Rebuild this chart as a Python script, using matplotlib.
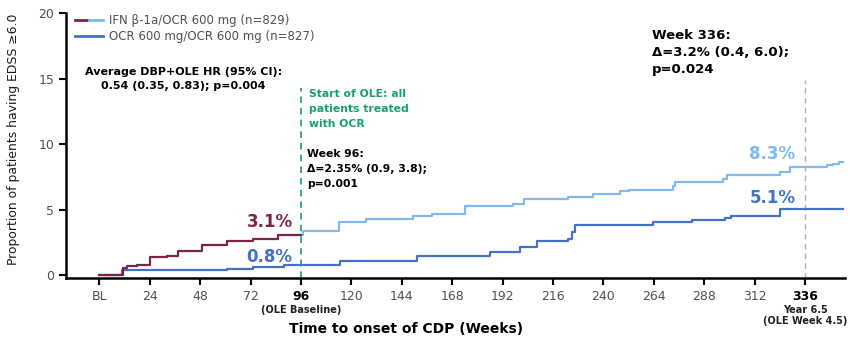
import numpy as np
import matplotlib
matplotlib.use('Agg')
import matplotlib.pyplot as plt
from matplotlib.lines import Line2D
from matplotlib.legend_handler import HandlerTuple

# Kaplan-Meier style cumulative proportions (%), step changes at given weeks
ifn_dbp_weeks = [0, 11.4, 13.3, 18, 24.3, 32.4, 37.6, 49, 61, 73, 85, 96]
ifn_dbp_pct = [0, 0.6, 0.7, 0.8, 1.4, 1.5, 1.9, 2.3, 2.6, 2.8, 3.1, 3.1]

ifn_ole_weeks = [96, 97, 114, 127, 149.5, 158.6, 174.3, 197, 202, 223, 235, 248,
                 252, 273, 274, 297, 299, 324, 329, 346.7, 349.5, 352, 354]
ifn_ole_pct = [3.1, 3.4, 4.1, 4.3, 4.55, 4.7, 5.3, 5.45, 5.8, 6.0, 6.2, 6.4,
               6.55, 6.85, 7.1, 7.35, 7.65, 7.9, 8.3, 8.4, 8.5, 8.65, 8.65]

ocr_weeks = [0, 11, 61, 73, 88, 114.8, 151.4, 186, 200.5, 208.6, 223, 225,
             226.7, 263.8, 282, 298, 301, 324, 354]
ocr_pct = [0, 0.4, 0.5, 0.65, 0.8, 1.1, 1.45, 1.8, 2.2, 2.6, 2.8, 3.3,
           3.85, 4.1, 4.2, 4.4, 4.55, 5.1, 5.1]

xticks = [0, 24, 48, 72, 96, 120, 144, 168, 192, 216, 240, 264, 288, 312, 336]
xticklabels = ['BL', '24', '48', '72', '96', '120', '144', '168', '192', '216',
               '240', '264', '288', '312', '336']
yticks = [0, 5, 10, 15, 20]

c_red = '#7a2449'
c_light = '#80b9ee'
c_dark = '#4472c4'
c_green = '#18a06a'
c_grey = '#505050'

plt.rcParams['font.family'] = 'DejaVu Sans'

fig = plt.figure(figsize=(8.5, 3.4), dpi=100)
ax = fig.add_axes([0.078, 0.182, 0.916, 0.78])

ax.step(ocr_weeks, ocr_pct, where='post', color=c_dark, lw=1.6, zorder=3)
ax.step(ifn_ole_weeks, ifn_ole_pct, where='post', color=c_light, lw=1.6, zorder=3)
ax.step(ifn_dbp_weeks, ifn_dbp_pct, where='post', color=c_red, lw=1.6, zorder=4)

ax.set_xlim(-15.7, 355)
ax.set_ylim(-0.2, 20)

# reference lines at OLE start and week 336
ax.plot([96, 96], [-0.2, 14.3], ls=(0, (4, 3)), color=c_green, lw=1.2, zorder=2)
ax.plot([336, 336], [-0.2, 14.9], ls=(0, (4, 3)), color='#b0b0b0', lw=1.0, zorder=2)

for s in ['top', 'right']:
    ax.spines[s].set_visible(False)
for s in ['left', 'bottom']:
    ax.spines[s].set_linewidth(1.8)

ax.set_yticks(yticks)
ax.set_xticks(xticks)
ax.set_xticklabels(xticklabels)
ax.tick_params(axis='both', length=5, width=1.5, labelsize=9, labelcolor=c_grey)
for lbl in ax.get_xticklabels():
    if lbl.get_text() in ('96', '336'):
        lbl.set_fontweight('bold')
        lbl.set_color('black')

# sub-labels under the two key ticks
xt = ax.get_xaxis_transform()
ax.annotate('(OLE Baseline)', xy=(96, 0), xycoords=xt, xytext=(0, -19.5),
            textcoords='offset points', ha='center', va='top', fontsize=7,
            fontweight='bold', color='#202020')
ax.annotate('Year 6.5\n(OLE Week 4.5)', xy=(336, 0), xycoords=xt, xytext=(0, -19.5),
            textcoords='offset points', ha='center', va='top', fontsize=7,
            fontweight='bold', color='#202020', linespacing=1.15)

ax.set_ylabel('Proportion of patients having EDSS \u22656.0', fontsize=8.9,
              color='#1a1a1a')
ax.yaxis.set_label_coords(-0.06, 0.525)
ax.set_xlabel('Time to onset of CDP (Weeks)', fontsize=10, fontweight='bold')
ax.xaxis.set_label_coords(0.436, -0.165)

# legend: first entry switches colour at the OLE
h_ifn = (Line2D([], [], color=c_red, lw=2), Line2D([], [], color=c_light, lw=2))
h_ocr = Line2D([], [], color=c_dark, lw=2)
ax.legend([h_ifn, h_ocr],
          ['IFN \u03b2-1a/OCR 600 mg (n=829)', 'OCR 600 mg/OCR 600 mg (n=827)'],
          handler_map={tuple: HandlerTuple(ndivide=2, pad=0)},
          loc='upper left', bbox_to_anchor=(0.0, 1.028), frameon=False,
          fontsize=8.5, labelcolor=c_grey, handlelength=2.4,
          handletextpad=0.5, labelspacing=0.25, borderaxespad=0.3)

ax.text(40, 15.9, 'Average DBP+OLE HR (95% CI):\n0.54 (0.35, 0.83); p=0.004',
        ha='center', va='top', fontsize=8, fontweight='bold', linespacing=1.55)
ax.text(100, 14.2, 'Start of OLE: all\npatients treated\nwith OCR',
        ha='left', va='top', fontsize=7.8, fontweight='bold', color=c_green,
        linespacing=1.6)
ax.text(99, 9.6, 'Week 96:\n\u0394=2.35% (0.9, 3.8);\np=0.001',
        ha='left', va='top', fontsize=7.8, fontweight='bold', linespacing=1.6)
ax.text(263, 18.75, 'Week 336:\n\u0394=3.2% (0.4, 6.0);\np=0.024',
        ha='left', va='top', fontsize=9.5, fontweight='bold', linespacing=1.4)

ax.text(92, 3.7, '3.1%', ha='right', va='baseline',
        fontsize=12, fontweight='bold', color=c_red)
ax.text(92, 1.06, '0.8%', ha='right', va='baseline',
        fontsize=12, fontweight='bold', color=c_dark)
ax.text(331.5, 8.9, '8.3%', ha='right', va='baseline',
        fontsize=12, fontweight='bold', color=c_light)
ax.text(331.5, 5.5, '5.1%', ha='right', va='baseline',
        fontsize=12, fontweight='bold', color=c_dark)

fig.savefig('out.png', dpi=100)
